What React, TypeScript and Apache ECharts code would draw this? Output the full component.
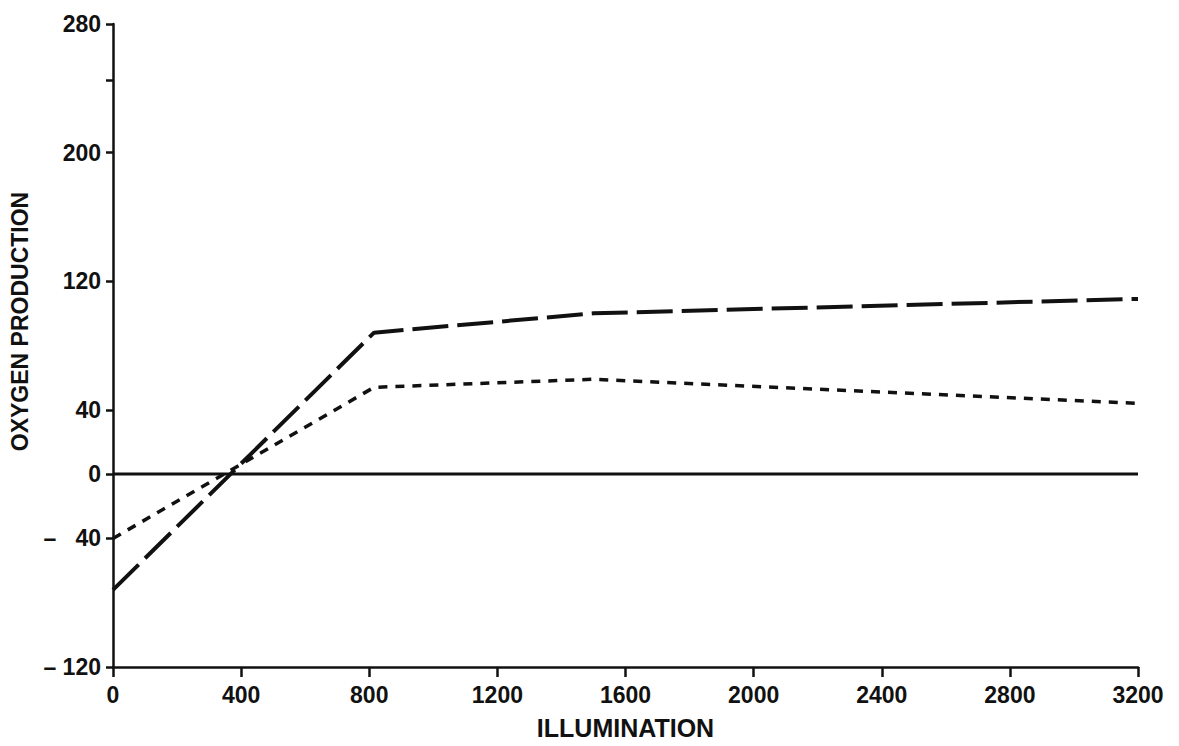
import React, { useEffect, useRef } from "react";
import * as echarts from "echarts";

const illumination = [0, 815, 1500, 3200];
const longDashValues = [-72, 88, 100, 109];
const shortDashValues = [-40, 54, 59, 44];
const zeroLineX = [0, 3200];
const zeroLineY = [0, 0];
const yTickLabels = [-120, -40, 0, 40, 120, 200, 280];
const yExtraTicks = [245];
const xTickValues = [0, 400, 800, 1200, 1600, 2000, 2400, 2800, 3200];

const FONT = "Liberation Sans, Arial, Helvetica, sans-serif";

export default function App() {
  const ref = useRef<HTMLDivElement>(null);
  useEffect(() => {
    if (!ref.current) return;
    const chart = echarts.init(ref.current, null, { renderer: "svg" });
    const pair = (xs: number[], ys: number[]) => xs.map((x, i) => [x, ys[i]]);
    chart.setOption({
      animation: false,
      backgroundColor: "#ffffff",
      grid: { left: 113, right: 41, top: 24, bottom: 79, containLabel: false },
      xAxis: {
        type: "value",
        min: 0,
        max: 3200,
        interval: 400,
        name: "ILLUMINATION",
        nameLocation: "middle",
        nameGap: 48,
        nameTextStyle: { fontFamily: FONT, fontSize: 25, color: "#111", fontWeight: "bold" },
        axisLine: { show: true, onZero: false, lineStyle: { color: "#111", width: 2.5 } },
        axisTick: { show: true, inside: false, length: 10, lineStyle: { color: "#111", width: 2.5 }, customValues: xTickValues },
        axisLabel: {
          fontFamily: FONT,
          fontSize: 23,
          fontWeight: "bold",
          color: "#111",
          margin: 16,
          customValues: xTickValues,
          formatter: (v: number) => String(v),
        },
        splitLine: { show: false },
      },
      yAxis: {
        type: "value",
        min: -120,
        max: 280,
        interval: 40,
        name: "OXYGEN PRODUCTION",
        nameLocation: "middle",
        nameGap: 82,
        nameTextStyle: { fontFamily: FONT, fontSize: 23, color: "#111", fontWeight: "bold", padding: [0, 0, 0, 48] },
        axisLine: { show: true, onZero: false, lineStyle: { color: "#111", width: 2.5 } },
        axisTick: {
          show: true,
          length: 7,
          lineStyle: { color: "#111", width: 2.5 },
          customValues: [...yTickLabels, ...yExtraTicks],
        },
        axisLabel: {
          fontFamily: FONT,
          fontSize: 23,
          fontWeight: "bold",
          color: "#111",
          margin: 12,
          customValues: yTickLabels,
          formatter: (v: number) =>
            v < 0 ? (v <= -100 ? "\u2013 " + Math.abs(v) : "\u2013   " + Math.abs(v)) : String(v),
        },
        splitLine: { show: false },
      },
      series: [
        {
          type: "line",
          data: pair(zeroLineX, zeroLineY),
          symbol: "none",
          lineStyle: { color: "#111", width: 3, type: "solid" },
          z: 1,
        },
        {
          type: "line",
          data: pair(illumination, longDashValues),
          symbol: "none",
          lineStyle: { color: "#111", width: 4, type: [36, 9] },
          z: 2,
        },
        {
          type: "line",
          data: pair(illumination, shortDashValues),
          symbol: "none",
          lineStyle: { color: "#111", width: 3.5, type: [9, 8] },
          z: 2,
        },
      ],
    });
    return () => chart.dispose();
  }, []);
  return (
    <div
      ref={ref}
      style={{ position: "absolute", left: 0, top: 0, width: 1179, height: 746, background: "#fff" }}
    />
  );
}
